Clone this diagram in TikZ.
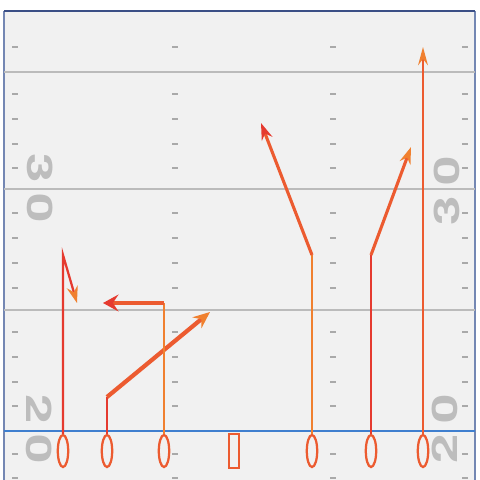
\documentclass[tikz,border=0pt]{standalone}
\usepackage{fontspec}
\setsansfont{TeX Gyre Heros}
\usepackage{tikz}
\usetikzlibrary{positioning, shapes.geometric, arrows.meta}

\definecolor{turf}{HTML}{F1F1F1}
\definecolor{yardline}{HTML}{BBBBBB}
\definecolor{hashgray}{HTML}{A9A9A9}
\definecolor{numgray}{HTML}{BDBDBD}
\definecolor{navy}{HTML}{3B4F86}
\definecolor{sideline}{HTML}{7487B3}
\definecolor{scrimmage}{HTML}{3F7FCF}
\definecolor{routered}{HTML}{E53A2F}
\definecolor{routeorange}{HTML}{F0802F}
\definecolor{routemix}{HTML}{EC5B30}

\tikzset{
  player/.style={ellipse, draw=routemix, line width=1.6pt, minimum width=0.26cm, minimum height=0.8cm, inner sep=0pt},
  snapper/.style={rectangle, draw=routemix, line width=1.6pt, minimum width=0.24cm, minimum height=0.84cm, inner sep=0pt},
  route/.style={line width=1.6pt},
  yardnum/.style={text=numgray, inner sep=0pt, font=\sffamily\bfseries\fontsize{25}{26}\selectfont},
  tip/.style={-{Stealth[length=12pt, width=8pt, inset=4pt, color=#1]}}
}

\begin{document}
\begin{tikzpicture}[x=0.025cm, y=-0.025cm]
  \useasboundingbox (0,0) rectangle (480,480);
  % field
  \fill[white] (0,0) rectangle (480,480);
  \fill[turf] (4,11) rectangle (475,480);
  \draw[sideline, line width=0.8pt] (4,11) -- (4,480);
  \draw[sideline, line width=0.8pt] (475,11) -- (475,480);
  \foreach \y in {72,189,310}
    \draw[yardline, line width=2pt] (4,\y) -- (475,\y);
  \foreach \y in {47,94,119,144,168,213,238,263,288,332,357,382,406,454,478}
    \foreach \x in {15,175,333,465}
      \draw[hashgray, line width=1.5pt] (\x-3,\y) -- (\x+3,\y);
  \draw[navy, line width=1.8pt] (4,11) -- (475,11);
  \draw[scrimmage, line width=1.6pt] (4,431) -- (475,431);

  % yard numbers
  \node[yardnum, rotate=-90] (l3) at (40,168) {\scalebox{1.5}[1]{3}};
  \node[yardnum, rotate=-90] (l30) at (40,208) {\scalebox{1.5}[1]{0}};
  \node[yardnum, rotate=-90] (l2) at (39,409) {\scalebox{1.5}[1]{2}};
  \node[yardnum, rotate=-90] (l20) at (39,449) {\scalebox{1.5}[1]{0}};
  \node[yardnum, rotate=90] (r30) at (447,171) {\scalebox{1.5}[1]{0}};
  \node[yardnum, rotate=90] (r3) at (447,211) {\scalebox{1.5}[1]{3}};
  \node[yardnum, rotate=90] (r20) at (445,409) {\scalebox{1.5}[1]{0}};
  \node[yardnum, rotate=90] (r2) at (445,449) {\scalebox{1.5}[1]{2}};

  % players
  \node[player] (p1) at (63,451) {};
  \node[player] (p2) at (107,451) {};
  \node[player] (p3) at (164,451) {};
  \node[snapper] (c) at (234,451) {};
  \node[player] (p4) at (312,451) {};
  \node[player] (p5) at (371,451) {};
  \node[player] (p6) at (423,451) {};

  % routes
  \coordinate (t1) at (63,255);
  \coordinate (e1) at (77,303);
  \coordinate (t2) at (107,397);
  \coordinate (e2) at (210,312);
  \coordinate (t3) at (164,303);
  \coordinate (e3) at (103,303);
  \coordinate (t4) at (312,255);
  \coordinate (e4) at (261,123);
  \coordinate (t5) at (371,255);
  \coordinate (e5) at (411,147);
  \coordinate (e6) at (423,47);

  \draw[route, routered, tip=routeorange, line join=miter] (p1) -- (t1) -- (e1);
  \draw[route, routered] (p2) -- (t2);
  \draw[route, routemix, line width=3pt, -{Stealth[length=12pt, width=10pt, inset=4pt, color=routeorange]}] (t2) -- (e2);
  \draw[route, routeorange] (p3) -- (t3);
  \draw[route, routemix, line width=3.2pt, -{Stealth[length=11pt, width=12pt, inset=4pt, color=routered]}] (t3) -- (e3);
  \draw[route, routeorange] (p4) -- (t4);
  \draw[route, routemix, line width=2.2pt, tip=routered] (t4) -- (e4);
  \draw[route, routered] (p5) -- (t5);
  \draw[route, routemix, line width=2.2pt, tip=routeorange] (t5) -- (e5);
  \draw[route, routemix, -{Stealth[length=13pt, width=7pt, inset=4.5pt, color=routeorange]}] (p6) -- (e6);
\end{tikzpicture}
\end{document}
